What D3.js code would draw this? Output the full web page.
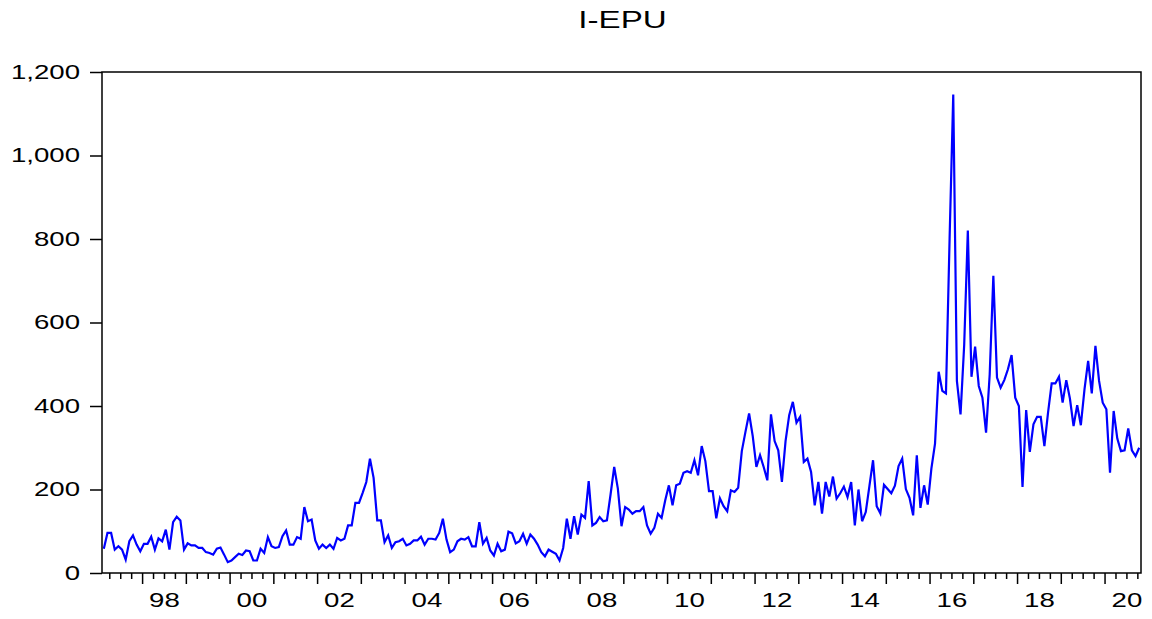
<!DOCTYPE html>
<html>
<head>
<meta charset="utf-8">
<script src="https://cdn.jsdelivr.net/npm/d3@7"></script>
<style>
	body { margin: 0; background: #fff; }
	text { font-family: "Liberation Sans", Arial, sans-serif; fill: #000; }
</style>
</head>
<body>
<div id="chart"></div>
<script>
// monthly series, first observation 1997M02
const START_YEAR = 1997;
const START_MONTH = 2;

const iepu = [
	58, 96, 96, 56, 64, 56, 32, 76, 90, 68, 52,          // 1997
	70, 70, 87, 56, 83, 76, 104, 56, 122, 135, 126, 56,  // 1998
	71, 66, 66, 60, 60, 50, 48, 44, 58, 61, 44, 26,      // 1999
	30, 38, 46, 43, 54, 52, 30, 30, 58, 48, 86, 64,      // 2000
	60, 62, 88, 102, 68, 68, 86, 82, 158, 124, 128, 78,  // 2001
	58, 68, 60, 68, 58, 84, 78, 82, 114, 114, 168, 168,  // 2002
	192, 218, 274, 228, 126, 126, 74, 90, 60, 74, 76, 82, // 2003
	66, 70, 78, 78, 87, 68, 82, 82, 80, 96, 130, 80,     // 2004
	50, 56, 76, 82, 80, 86, 64, 64, 122, 70, 84, 54,     // 2005
	42, 70, 52, 56, 99, 95, 71, 76, 94, 70, 92, 82,      // 2006
	68, 50, 40, 56, 51, 46, 30, 60, 130, 82, 136, 92,    // 2007
	140, 132, 220, 114, 120, 134, 124, 126, 188, 254, 202, 112, // 2008
	158, 152, 142, 148, 148, 158, 114, 94, 108, 142, 132, 174,  // 2009
	210, 162, 210, 214, 240, 244, 240, 270, 234, 304, 268, 196, // 2010
	196, 131, 179, 160, 148, 198, 194, 204, 292, 338, 382, 328, // 2011
	254, 282, 254, 222, 380, 316, 294, 218, 316, 378, 410, 360, // 2012
	374, 266, 274, 242, 162, 218, 142, 218, 183, 231, 178, 191, // 2013
	207, 182, 218, 114, 200, 124, 146, 208, 270, 160, 143, 211, // 2014
	201, 191, 209, 256, 274, 201, 180, 138, 282, 156, 210, 164, // 2015
	250, 310, 482, 436, 430, 802, 1146, 460, 380, 546, 820, 470, // 2016
	542, 448, 420, 336, 476, 712, 468, 444, 462, 488, 522, 420,  // 2017
	400, 206, 390, 290, 356, 374, 374, 304, 384, 454, 454, 470,  // 2018
	408, 462, 418, 352, 402, 354, 440, 508, 430, 544, 460, 408,  // 2019
	392, 240, 388, 322, 292, 294, 346, 294, 280, 300             // 2020
];

const yTicks = [0, 200, 400, 600, 800, 1000, 1200];
const labelYears = [1998, 2000, 2002, 2004, 2006, 2008, 2010, 2012, 2014, 2016, 2018, 2020];
const TITLE = "I-EPU";

const WIDTH = 1152;
const HEIGHT = 619;
const PLOT = { LEFT: 102, RIGHT: 1141, TOP: 72, BOTTOM: 573 };
const STRETCH = 1.38;   // text in the source is widened

const svg = d3.select("#chart")
	.append("svg")
		.attr("width", WIDTH)
		.attr("height", HEIGHT);

const t0 = START_YEAR + (START_MONTH - 1) / 12;
const t1 = t0 + iepu.length / 12;

const x = d3.scaleLinear()
	.domain([t0, t1])
	.range([PLOT.LEFT, PLOT.RIGHT]);

const y = d3.scaleLinear()
	.domain([0, 1200])
	.range([PLOT.BOTTOM, PLOT.TOP]);

// title
svg.append("text")
	.attr("transform", `translate(${(PLOT.LEFT + PLOT.RIGHT) / 2 + 1}, 28) scale(${STRETCH},1)`)
	.attr("text-anchor", "middle")
	.attr("font-size", 24)
	.text(TITLE);

// y axis
const yAxis = svg.append("g")
	.attr("transform", `translate(${PLOT.LEFT}, 0)`)
	.call(d3.axisLeft(y).tickValues(yTicks).tickSize(12).tickFormat(d3.format(",")));
yAxis.select(".domain").remove();
yAxis.selectAll("line").attr("stroke", "#000").attr("stroke-width", 1.5);
yAxis.selectAll("text")
	.attr("font-size", 20)
	.attr("x", -22 / STRETCH)
	.attr("transform", `scale(${STRETCH},1)`);

// x axis: quarter ticks, year ticks, labels in the middle of each even year
const quarters = d3.range(Math.ceil(t0 * 4), Math.floor(t1 * 4) + 1).map(q => q / 4)
	.filter(q => q % 1 !== 0);
const years = d3.range(Math.ceil(t0), Math.floor(t1) + 1);

const xMinor = svg.append("g")
	.attr("transform", `translate(0, ${PLOT.BOTTOM})`)
	.call(d3.axisBottom(x).tickValues(quarters).tickSize(6).tickFormat(""));
const xMajor = svg.append("g")
	.attr("transform", `translate(0, ${PLOT.BOTTOM})`)
	.call(d3.axisBottom(x).tickValues(years).tickSize(11).tickFormat(""));
[xMinor, xMajor].forEach(g => {
	g.select(".domain").remove();
	g.selectAll("line").attr("stroke", "#000").attr("stroke-width", 1.5);
});

const xLabels = svg.append("g")
	.attr("transform", `translate(0, ${PLOT.BOTTOM})`)
	.call(d3.axisBottom(x)
		.tickValues(labelYears.map(d => d + 0.5))
		.tickSize(0)
		.tickPadding(20)
		.tickFormat(d => String(Math.floor(d) % 100).padStart(2, "0")));
xLabels.select(".domain").remove();
xLabels.selectAll(".tick").each(function () {
	const tick = d3.select(this);
	const tx = +tick.attr("transform").match(/translate\(([-\d.]+)/)[1];
	tick.attr("transform", `translate(${tx},0) scale(${STRETCH},1)`);
});
xLabels.selectAll("text").attr("font-size", 20);

// series
const line = d3.line()
	.x((d, i) => x(t0 + (i + 0.5) / 12))
	.y(d => y(d));

svg.append("path")
	.datum(iepu)
	.attr("fill", "none")
	.attr("stroke", "#0000ff")
	.attr("stroke-width", 2.2)
	.attr("stroke-linejoin", "miter")
	.attr("d", line);

// frame
svg.append("rect")
	.attr("x", PLOT.LEFT)
	.attr("y", PLOT.TOP)
	.attr("width", PLOT.RIGHT - PLOT.LEFT)
	.attr("height", PLOT.BOTTOM - PLOT.TOP)
	.attr("fill", "none")
	.attr("stroke", "#000")
	.attr("stroke-width", 1.5);
</script>
</body>
</html>
